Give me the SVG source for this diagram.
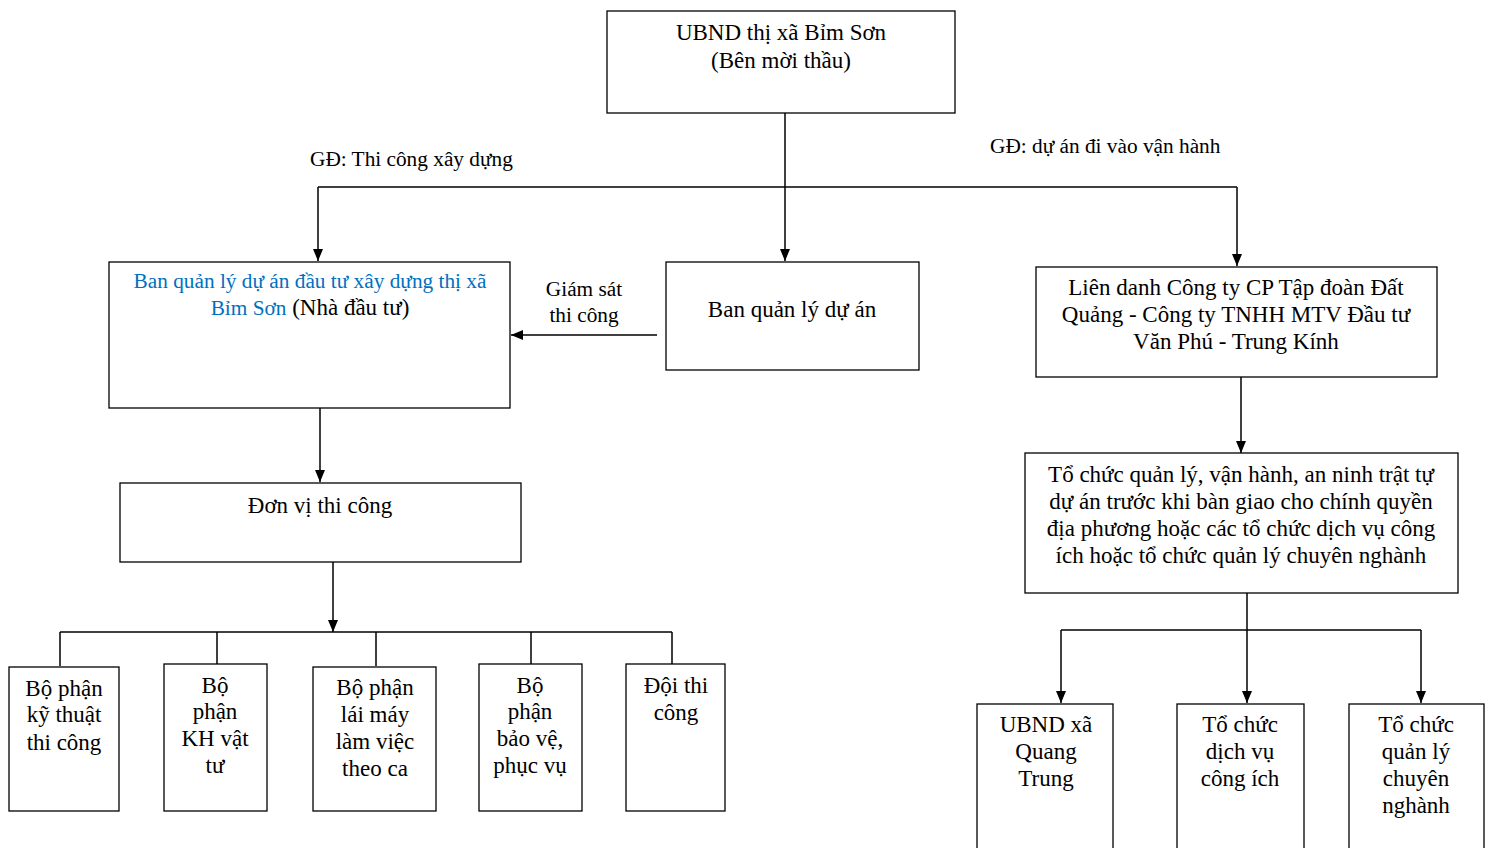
<svg xmlns="http://www.w3.org/2000/svg" width="1491" height="848" viewBox="0 0 1491 848">
<style>
.box{fill:#fff;stroke:#000;stroke-width:1.3}
.t{font-family:"Liberation Serif","Times New Roman","DejaVu Serif",serif;font-size:23px;fill:#000;text-anchor:middle}
.lbl{font-family:"Liberation Serif","Times New Roman","DejaVu Serif",serif;font-size:21.3px;fill:#000}
.blue{fill:#0070C0;font-size:21.3px}
.c{fill:none;stroke:#000;stroke-width:1.5}
</style>
<defs>
<marker id="ah" markerWidth="12" markerHeight="12" viewBox="0 0 12 12" refX="12" refY="6" orient="auto" markerUnits="userSpaceOnUse">
<path d="M0,1 L12,6 L0,11 Z" fill="#000"/>
</marker>
</defs>
<rect width="1491" height="848" fill="#fff"/>

<g id="connectors">
<path class="c" d="M785,113 V261" marker-end="url(#ah)"/>
<path class="c" d="M318,187 H1237"/>
<path class="c" d="M318,187 V261" marker-end="url(#ah)"/>
<path class="c" d="M1237,187 V266" marker-end="url(#ah)"/>
<path class="c" d="M657,335 H511" marker-end="url(#ah)"/>
<path class="c" d="M320,408 V482" marker-end="url(#ah)"/>
<path class="c" d="M333,562 V632" marker-end="url(#ah)"/>
<path class="c" d="M60,632 H672"/>
<path class="c" d="M60,632 V666 M217,632 V664 M376,632 V666 M531,632 V664 M672,632 V664"/>
<path class="c" d="M1241,377 V453" marker-end="url(#ah)"/>
<path class="c" d="M1247,593 V703" marker-end="url(#ah)"/>
<path class="c" d="M1061,630 H1421"/>
<path class="c" d="M1061,630 V703" marker-end="url(#ah)"/>
<path class="c" d="M1421,630 V703" marker-end="url(#ah)"/>
<text class="lbl" x="310" y="166">GĐ: Thi công xây dựng</text>
<text class="lbl" x="990" y="153">GĐ: dự án đi vào vận hành</text>
<text class="t" x="584" y="296" style="font-size:21.3px">Giám sát</text>
<text class="t" x="584" y="322" style="font-size:21.3px">thi công</text>
</g>

<g id="n-ubnd">
<rect class="box" x="607" y="11" width="348" height="102"/>
<text class="t" x="781" y="40">UBND thị xã Bỉm Sơn</text>
<text class="t" x="781" y="68">(Bên mời thầu)</text>
</g>

<g id="n-bqlda-dt">
<rect class="box" x="109" y="262" width="401" height="146"/>
<text class="t" x="310" y="288"><tspan class="blue">Ban quản lý dự án đầu tư xây dựng thị xã</tspan></text>
<text class="t" x="310" y="315"><tspan class="blue">Bỉm Sơn</tspan> (Nhà đầu tư)</text>
</g>

<g id="n-bqlda">
<rect class="box" x="666" y="262" width="253" height="108"/>
<text class="t" x="792" y="317">Ban quản lý dự án</text>
</g>

<g id="n-liendanh">
<rect class="box" x="1036" y="267" width="401" height="110"/>
<text class="t" x="1236" y="295">Liên danh Công ty CP Tập đoàn Đất</text>
<text class="t" x="1236" y="322">Quảng - Công ty TNHH MTV Đầu tư</text>
<text class="t" x="1236" y="349">Văn Phú - Trung Kính</text>
</g>

<g id="n-donvi">
<rect class="box" x="120" y="483" width="401" height="79"/>
<text class="t" x="320" y="513">Đơn vị thi công</text>
</g>

<g id="n-kythuat">
<rect class="box" x="9" y="667" width="110" height="144"/>
<text class="t" x="64" y="696">Bộ phận</text>
<text class="t" x="64" y="722">kỹ thuật</text>
<text class="t" x="64" y="750">thi công</text>
</g>

<g id="n-khvattu">
<rect class="box" x="164" y="664" width="103" height="147"/>
<text class="t" x="215" y="693">Bộ</text>
<text class="t" x="215" y="719">phận</text>
<text class="t" x="215" y="746">KH vật</text>
<text class="t" x="215" y="773">tư</text>
</g>

<g id="n-laimay">
<rect class="box" x="313" y="667" width="123" height="144"/>
<text class="t" x="375" y="695">Bộ phận</text>
<text class="t" x="375" y="722">lái máy</text>
<text class="t" x="375" y="749">làm việc</text>
<text class="t" x="375" y="776">theo ca</text>
</g>

<g id="n-baove">
<rect class="box" x="479" y="664" width="103" height="147"/>
<text class="t" x="530" y="693">Bộ</text>
<text class="t" x="530" y="719">phận</text>
<text class="t" x="530" y="746">bảo vệ,</text>
<text class="t" x="530" y="773">phục vụ</text>
</g>

<g id="n-doi">
<rect class="box" x="626" y="664" width="99" height="147"/>
<text class="t" x="676" y="693">Đội thi</text>
<text class="t" x="676" y="720">công</text>
</g>

<g id="n-tochuc">
<rect class="box" x="1025" y="453" width="433" height="140"/>
<text class="t" x="1241" y="482">Tổ chức quản lý, vận hành, an ninh trật tự</text>
<text class="t" x="1241" y="509">dự án trước khi bàn giao cho chính quyền</text>
<text class="t" x="1241" y="536">địa phương hoặc các tổ chức dịch vụ công</text>
<text class="t" x="1241" y="563">ích hoặc tổ chức quản lý chuyên nghành</text>
</g>

<g id="n-quangtrung">
<rect class="box" x="977" y="704" width="136" height="160"/>
<text class="t" x="1046" y="732">UBND xã</text>
<text class="t" x="1046" y="759">Quang</text>
<text class="t" x="1046" y="786">Trung</text>
</g>

<g id="n-dichvu">
<rect class="box" x="1177" y="704" width="127" height="160"/>
<text class="t" x="1240" y="732">Tổ chức</text>
<text class="t" x="1240" y="759">dịch vụ</text>
<text class="t" x="1240" y="786">công ích</text>
</g>

<g id="n-chuyennganh">
<rect class="box" x="1349" y="704" width="135" height="160"/>
<text class="t" x="1416" y="732">Tổ chức</text>
<text class="t" x="1416" y="759">quản lý</text>
<text class="t" x="1416" y="786">chuyên</text>
<text class="t" x="1416" y="813">nghành</text>
</g>
</svg>
